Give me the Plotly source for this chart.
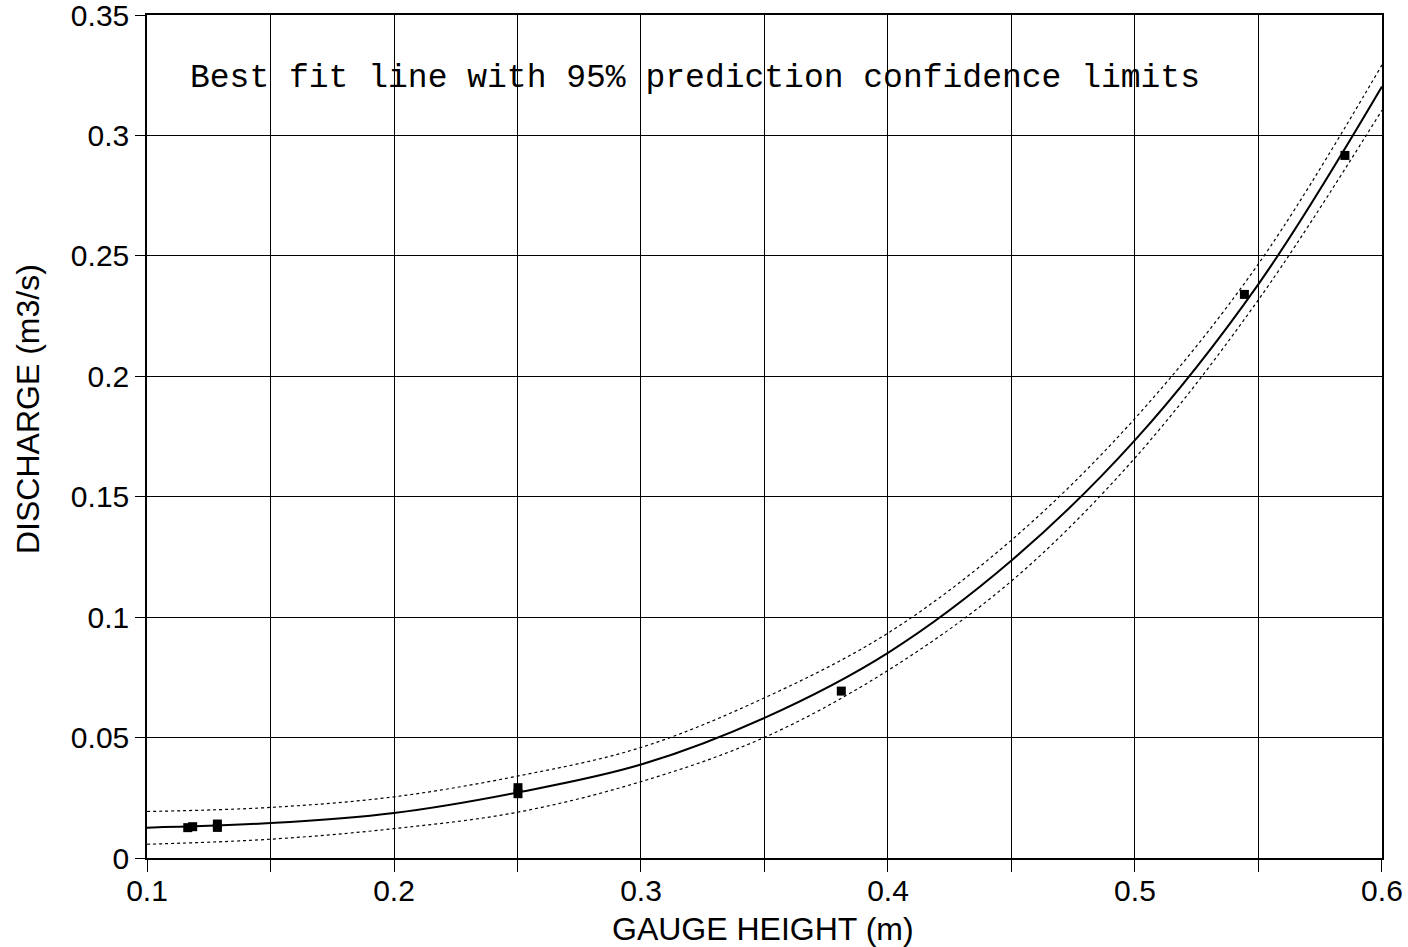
import plotly.graph_objects as go

# Observed gauge height / discharge points
obs_height = [0.1165, 0.1185, 0.1285, 0.1285, 0.2502, 0.2502, 0.3811, 0.5443, 0.5850]
obs_discharge = [0.0126, 0.0130, 0.0127, 0.0141, 0.0267, 0.0292, 0.0693, 0.2340, 0.2917]

# Best fit line and 95% prediction limits
curve_height = [0.10, 0.15, 0.20, 0.25, 0.30, 0.35, 0.40, 0.45, 0.50, 0.55, 0.60]
fit_discharge = [0.0126, 0.0145, 0.0187, 0.0272, 0.0388, 0.0582, 0.0852, 0.1235, 0.1735, 0.2383, 0.3203]
upper_discharge = [0.0193, 0.0210, 0.0254, 0.0340, 0.0459, 0.0665, 0.0934, 0.1320, 0.1825, 0.2467, 0.3293]
lower_discharge = [0.0057, 0.0078, 0.0122, 0.0190, 0.0317, 0.0501, 0.0779, 0.1150, 0.1661, 0.2318, 0.3105]

x_ticks = [0.1, 0.2, 0.3, 0.4, 0.5, 0.6]
x_ticklabels = ["0.1", "0.2", "0.3", "0.4", "0.5", "0.6"]
y_ticks = [0, 0.05, 0.1, 0.15, 0.2, 0.25, 0.3, 0.35]
y_ticklabels = ["0", "0.05", "0.1", "0.15", "0.2", "0.25", "0.3", "0.35"]

L, R, T, B = 147, 1382, 15, 858

fig = go.Figure()
fig.add_trace(go.Scatter(x=curve_height, y=upper_discharge, mode="lines",
                         line=dict(color="black", width=1.2, dash="dot", shape="spline"),
                         showlegend=False))
fig.add_trace(go.Scatter(x=curve_height, y=lower_discharge, mode="lines",
                         line=dict(color="black", width=1.2, dash="dot", shape="spline"),
                         showlegend=False))
fig.add_trace(go.Scatter(x=curve_height, y=fit_discharge, mode="lines",
                         line=dict(color="black", width=2, shape="spline"),
                         showlegend=False))
fig.add_trace(go.Scatter(x=obs_height, y=obs_discharge, mode="markers",
                         marker=dict(symbol="square", size=9, color="black"),
                         showlegend=False))

fig.add_annotation(
    text="Best fit line with 95% prediction confidence limits",
    xref="paper", yref="paper", x=(188 - L) / (R - L), y=1 - (79 - T) / (B - T),
    xanchor="left", yanchor="middle", showarrow=False,
    font=dict(family="Liberation Mono, Courier New, monospace", size=33, color="black"),
)

title_font = dict(family="Liberation Sans, Arial, sans-serif", size=32, color="black")

fig.add_annotation(
    text="DISCHARGE (m3/s)", textangle=-90,
    xref="paper", yref="paper", x=(28 - L) / (R - L), y=1 - (409 - T) / (B - T),
    xanchor="center", yanchor="middle", showarrow=False, font=title_font,
)
fig.add_annotation(
    text="GAUGE HEIGHT (m)",
    xref="paper", yref="paper", x=(763 - L) / (R - L), y=1 - (929 - T) / (B - T),
    xanchor="center", yanchor="middle", showarrow=False, font=title_font,
)

axis_font = dict(family="Liberation Sans, Arial, sans-serif", size=30, color="black")

fig.update_layout(
    width=1408, height=947,
    margin=dict(l=L, r=1408 - R, t=T, b=947 - B),
    paper_bgcolor="white", plot_bgcolor="white",
    xaxis=dict(
        range=[0.1, 0.60001], tickvals=x_ticks, ticktext=x_ticklabels,
        showgrid=True, gridcolor="black", gridwidth=1,
        ticks="outside", ticklen=12, tickcolor="black", tickwidth=1,
        minor=dict(dtick=0.05, tick0=0.1, showgrid=True, gridcolor="black", gridwidth=1,
                   ticks="outside", ticklen=12, tickcolor="black", tickwidth=1),
        showline=True, linecolor="black", linewidth=2, mirror=True,
        zeroline=False, tickfont=axis_font, automargin=False,
        ticklabeloverflow="allow", ticklabelstandoff=-7,
    ),
    yaxis=dict(
        range=[0, 0.35001], tickvals=y_ticks, ticktext=y_ticklabels,
        showgrid=True, gridcolor="black", gridwidth=1,
        ticks="outside", ticklen=10, tickcolor="black", tickwidth=1,
        showline=True, linecolor="black", linewidth=1.5, mirror=True,
        zeroline=False, tickfont=axis_font, automargin=False,
        ticklabeloverflow="allow",
    ),
)

fig.write_html("out.html")
